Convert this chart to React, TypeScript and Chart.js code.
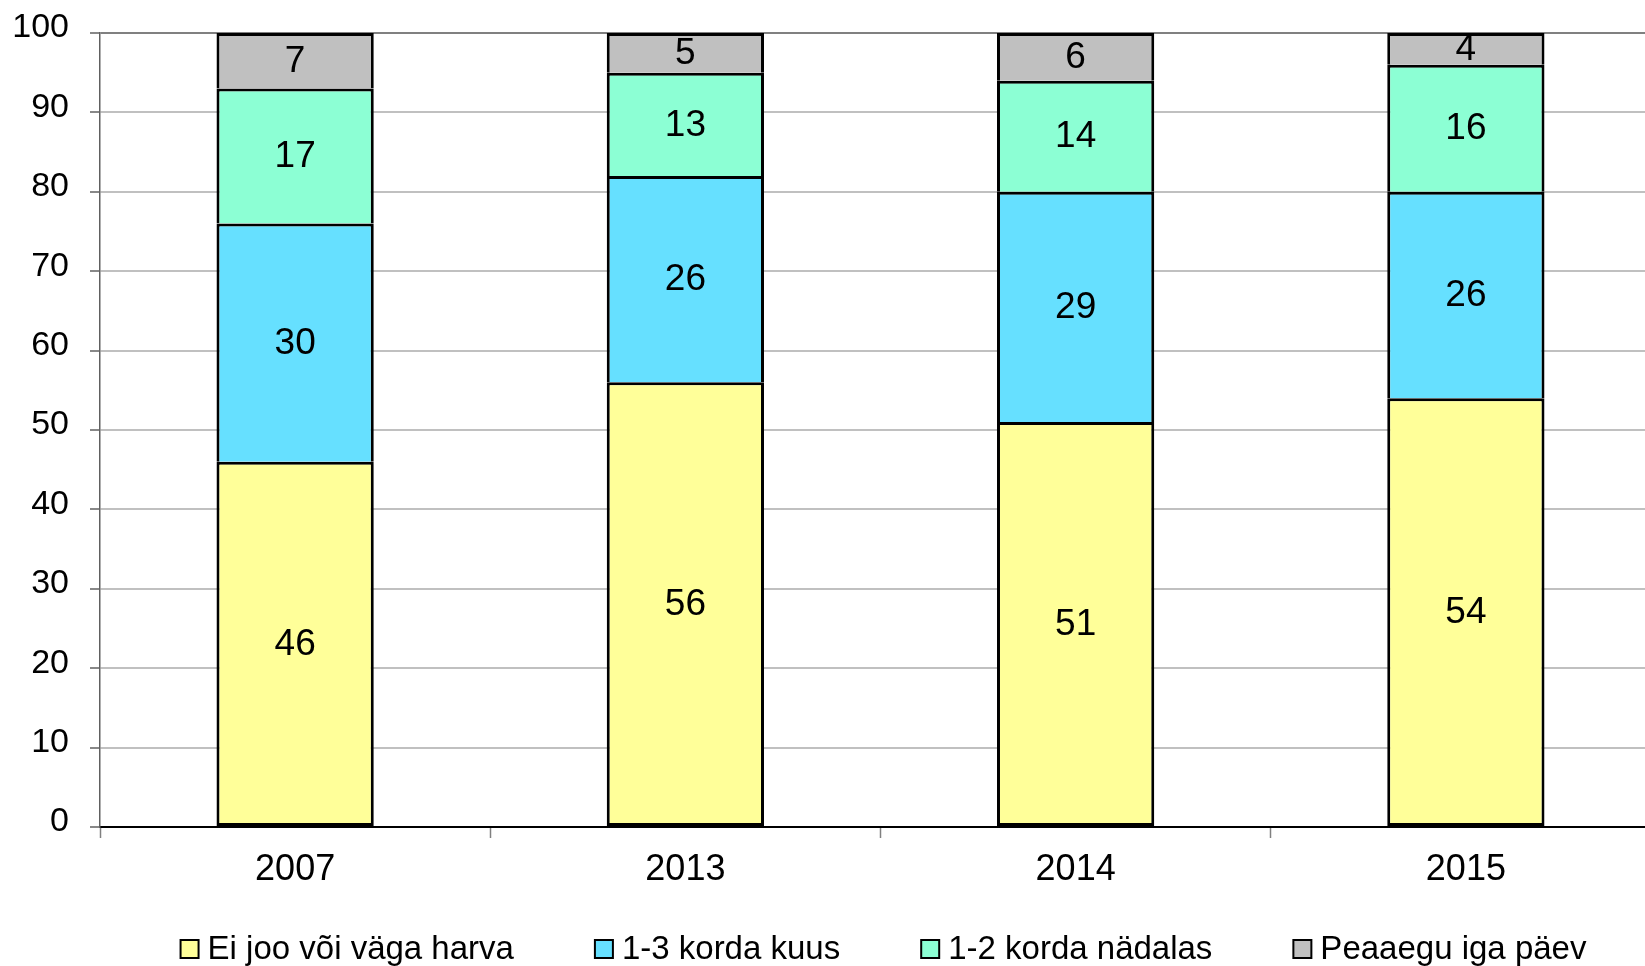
import React, { useEffect, useRef } from "react";
import { Chart, registerables } from "chart.js";

Chart.register(...registerables);

const categories = ["2007", "2013", "2014", "2015"];
const seriesLabels = ["Ei joo või väga harva", "1-3 korda kuus", "1-2 korda nädalas", "Peaaegu iga päev"];
const rarelyValues = [46, 56, 51, 54];
const monthlyValues = [30, 26, 29, 26];
const weeklyValues = [17, 13, 14, 16];
const dailyValues = [7, 5, 6, 4];
const seriesColors = ["#FFFF99", "#66E0FF", "#8CFFD4", "#C0C0C0"];
const yMin = 0;
const yMax = 100;
const yStep = 10;

const FONT = "'Liberation Sans', Arial, Helvetica, sans-serif";

const valueLabels = {
  id: "valueLabels",
  afterDatasetsDraw(chart: any) {
    const ctx = chart.ctx;
    ctx.save();
    ctx.font = `37px ${FONT}`;
    ctx.fillStyle = "#000";
    ctx.textAlign = "center";
    ctx.textBaseline = "middle";
    chart.data.datasets.forEach((ds: any, di: number) => {
      const meta = chart.getDatasetMeta(di);
      meta.data.forEach((bar: any, i: number) => {
        const v = ds.data[i];
        const y = (bar.y + bar.base) / 2;
        ctx.fillText(String(v), bar.x, y + 1);
      });
    });
    ctx.restore();
  },
};

const bottomLegend = {
  id: "bottomLegend",
  afterDraw(chart: any) {
    const ctx = chart.ctx;
    ctx.save();
    ctx.font = `33px ${FONT}`;
    const box = 18;
    const gap = 9;
    const itemGap = 81;
    const labels = chart.data.datasets.map((ds: any) => ds.label as string);
    const widths = labels.map((t: string) => ctx.measureText(t).width);
    const total =
      widths.reduce((a: number, w: number) => a + box + gap + w, 0) + itemGap * (widths.length - 1);
    const area = chart.chartArea;
    let x = (area.left + area.right) / 2 - total / 2 + 3;
    const cy = chart.height - 17;
    ctx.textAlign = "left";
    ctx.textBaseline = "middle";
    labels.forEach((t: string, i: number) => {
      const ds = chart.data.datasets[i];
      ctx.fillStyle = ds.backgroundColor;
      ctx.fillRect(x, cy - box / 2, box, box);
      ctx.lineWidth = 2;
      ctx.strokeStyle = "#000";
      ctx.strokeRect(x, cy - box / 2, box, box);
      ctx.fillStyle = "#000";
      ctx.fillText(t, x + box + gap, cy + 1);
      x += box + gap + widths[i] + itemGap;
    });
    ctx.restore();
  },
};

function makeDataset(label: string, data: number[], color: string, first: boolean) {
  return {
    label,
    data,
    backgroundColor: color,
    borderColor: "#000",
    borderWidth: { top: 3, left: 3, right: 3, bottom: first ? 3 : 0 },
    borderSkipped: false as const,
    barPercentage: 0.403,
    categoryPercentage: 1,
  };
}

export default function App() {
  const ref = useRef<HTMLCanvasElement | null>(null);

  useEffect(() => {
    if (!ref.current) return;
    const chart = new Chart(ref.current, {
      type: "bar",
      data: {
        labels: categories,
        datasets: [
          makeDataset(seriesLabels[0], rarelyValues, seriesColors[0], true),
          makeDataset(seriesLabels[1], monthlyValues, seriesColors[1], false),
          makeDataset(seriesLabels[2], weeklyValues, seriesColors[2], false),
          makeDataset(seriesLabels[3], dailyValues, seriesColors[3], false),
        ],
      },
      options: {
        animation: false,
        responsive: true,
        maintainAspectRatio: false,
        layout: { padding: { top: 33, left: 0, right: 0, bottom: 0 } },
        plugins: {
          legend: { display: false },
          tooltip: { enabled: false },
          title: { display: false },
        },
        scales: {
          x: {
            stacked: true,
            offset: true,
            grid: {
              display: true,
              offset: true,
              drawOnChartArea: false,
              drawTicks: true,
              tickLength: 11,
              tickColor: "#808080",
              tickWidth: 1.5,
            },
            border: { display: true, color: "#000", width: 2 },
            ticks: {
              color: "#000",
              font: { family: FONT, size: 36 },
              padding: 10,
              maxRotation: 0,
            },
            afterFit(scale: any) {
              scale.height = 139;
              scale.paddingLeft = 0;
              scale.paddingRight = 0;
            },
          },
          y: {
            stacked: true,
            min: yMin,
            max: yMax,
            grid: {
              color: (c: any) => (c.tick && c.tick.value === yMax ? "#808080" : "#C0C0C0"),
              lineWidth: 2,
              tickLength: 10,
              tickColor: "#606060",
              tickWidth: 1.5,
            },
            border: { display: true, color: "#606060", width: 1.5 },
            ticks: {
              stepSize: yStep,
              color: "#000",
              font: { family: FONT, size: 34 },
              padding: 21,
              labelOffset: -5,
            },
            afterFit(scale: any) {
              scale.width = 100;
              scale.paddingTop = 0;
              scale.paddingBottom = 0;
            },
          },
        },
      },
      plugins: [valueLabels, bottomLegend],
    });
    return () => chart.destroy();
  }, []);

  return (
    <div
      style={{
        position: "absolute",
        left: 0,
        top: 0,
        width: 1645,
        height: 966,
        overflow: "hidden",
        background: "#fff",
      }}
    >
      <div style={{ position: "relative", width: 1661, height: 966 }}>
        <canvas ref={ref} />
      </div>
    </div>
  );
}
